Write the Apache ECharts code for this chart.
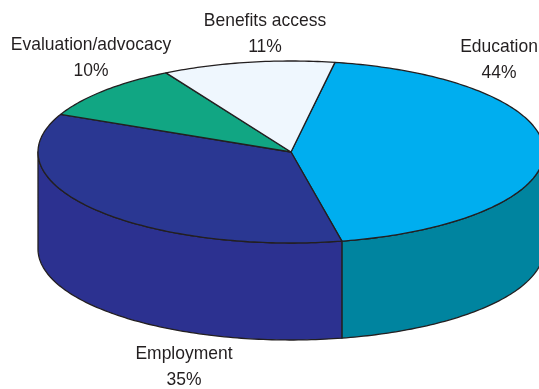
<!DOCTYPE html>
<html>
<head>
<meta charset="utf-8">
<style>html,body{margin:0;padding:0;background:#fff}#chart{width:539px;height:389px}</style>
<script src="https://cdn.jsdelivr.net/npm/echarts@6/dist/echarts.min.js"></script>
</head>
<body>
<div id="chart"></div>
<script>
// Programme spending shares, clockwise from the start angle
const categories = ['Education', 'Employment', 'Evaluation/advocacy', 'Benefits access'];
const shares = [44, 35, 10, 11];

const topColors = ['#00aeef', '#2a3792', '#11a683', '#eff7fe'];
const sideColors = ['#00849f', '#2c3190', '#11a683', '#eff7fe'];
const labelCentres = [[499, 47], [184, 354], [91, 45], [265, 21]];

// Tilted disc geometry
const cx = 291, cy = 152, rx = 253, ry = 91, depth = 97;
const startAngle = 10;
const outline = '#231f20';

const total = shares.reduce((a, b) => a + b, 0);
const onRim = (deg, drop) => {
  const t = deg * Math.PI / 180;
  return [cx + rx * Math.sin(t), cy - ry * Math.cos(t) + drop];
};
const arc = (from, to, drop) => {
  const pts = [];
  const n = Math.max(2, Math.ceil(Math.abs(to - from)));
  for (let i = 0; i <= n; i++) pts.push(onRim(from + (to - from) * i / n, drop));
  return pts;
};

let running = startAngle;
const rows = shares.map((v, i) => {
  const a0 = running;
  running += v / total * 360;
  return [a0, running, i];
});

function renderSlice(params, api) {
  const a0 = api.value(0), a1 = api.value(1), i = api.value(2);
  const stroke = { stroke: outline, lineWidth: 1.3, lineJoin: 'round' };
  const children = [];

  // Only the front half of the wall (90 to 270 degrees) can be seen
  const w0 = Math.max(a0, 90), w1 = Math.min(a1, 270);
  if (w1 > w0) {
    children.push({
      type: 'polygon',
      shape: { points: arc(w0, w1, 0).concat(arc(w1, w0, depth)) },
      style: Object.assign({ fill: sideColors[i] }, stroke)
    });
  }
  children.push({
    type: 'polygon',
    shape: { points: [[cx, cy]].concat(arc(a0, a1, 0)) },
    style: Object.assign({ fill: topColors[i] }, stroke)
  });
  // Slightly condensed two-line label: name, then share
  children.push({
    type: 'text',
    z2: 10,
    x: labelCentres[i][0],
    y: labelCentres[i][1],
    scaleX: 0.92,
    style: {
      text: categories[i] + '\n' + shares[i] + '%',
      x: 0,
      y: -13,
      align: 'center',
      verticalAlign: 'top',
      fill: '#231f20',
      font: '19px "Liberation Sans"',
      lineHeight: 26
    }
  });
  return { type: 'group', children };
}

const chart = echarts.init(document.getElementById('chart'), null, { renderer: 'canvas' });
chart.setOption({
  animation: false,
  backgroundColor: '#ffffff',
  series: [{
    type: 'custom',
    coordinateSystem: 'none',
    renderItem: renderSlice,
    data: rows,
    silent: true,
    clip: false
  }]
});
</script>
</body>
</html>
